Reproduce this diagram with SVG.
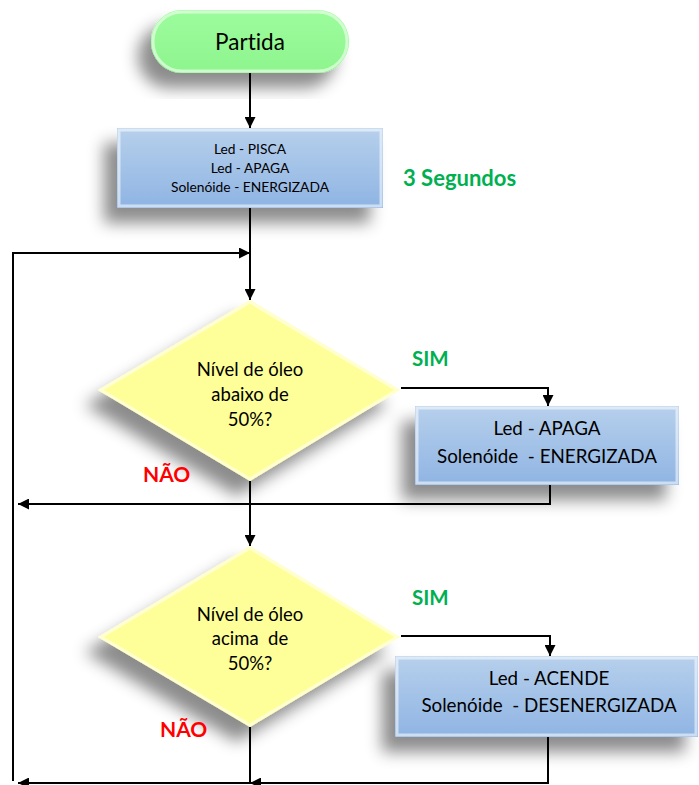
<svg xmlns="http://www.w3.org/2000/svg" width="699" height="785" viewBox="0 0 699 785">
<defs>
<linearGradient id="gBlue" x1="0" y1="0" x2="0" y2="1"><stop offset="0" stop-color="#B7D0EC"/><stop offset="1" stop-color="#8FB4E3"/></linearGradient>
<linearGradient id="gGreen" x1="0" y1="0" x2="0" y2="1"><stop offset="0" stop-color="#9CFC9C"/><stop offset="1" stop-color="#8EF58E"/></linearGradient>
<filter id="sh" x="-30%" y="-30%" width="160%" height="170%"><feDropShadow dx="-13" dy="15" stdDeviation="8" flood-color="#000" flood-opacity="0.45"/></filter>
<marker id="ah" viewBox="0 0 10 10" refX="10" refY="5" markerWidth="11" markerHeight="11" markerUnits="userSpaceOnUse" orient="auto"><path d="M0,0 L10,5 L0,10 z" fill="#000"/></marker>
<style>
text{font-variant-ligatures:none}
.box{fill:url(#gBlue);filter:url(#sh)}
.dia{fill:#FFFF99;filter:url(#sh)}
.edge{fill:none;stroke:#fff;stroke-opacity:0.55;stroke-width:3}
.t{font-family:Lato,"Open Sans","Liberation Sans",sans-serif;fill:#000;text-anchor:middle}
.c{fill:none;stroke:#000;stroke-width:2;marker-end:url(#ah)}
.sim{font-family:Lato,"Liberation Sans",sans-serif;font-weight:bold;fill:#00B050;font-size:20.5px}
.nao{font-family:Lato,"Liberation Sans",sans-serif;font-weight:bold;fill:#FF0000;font-size:21px}
</style>
</defs>
<g id="partida">
<rect x="151" y="10" width="198" height="63" rx="31" ry="31" fill="url(#gGreen)" filter="url(#sh)"/>
<rect x="153" y="12" width="194" height="59" rx="29" ry="29" class="edge"/>
<text x="250" y="50" class="t" font-size="22.5">Partida</text>
</g>
<g id="box1">
<rect x="117" y="128" width="266" height="80" class="box"/>
<rect x="119" y="130" width="262" height="76" class="edge"/>
<text x="250" y="154" class="t" font-size="13.8">Led - PISCA</text>
<text x="250" y="173" class="t" font-size="13.8">Led - APAGA</text>
<text x="250" y="192" class="t" font-size="13.8">Solenóide - ENERGIZADA</text>
</g>
<text id="tempo" x="403" y="186" font-family="Lato,'Liberation Sans',sans-serif" font-weight="bold" font-size="22" fill="#00B050">3 Segundos</text>
<g id="dec1">
<polygon points="250,300 400,390 250,481 98,390" class="dia"/>
<polygon points="250,302 397,390 250,479 101,390" class="edge" stroke-opacity="0.4"/>
<text x="250" y="376" class="t" font-size="18.5">Nível de óleo</text>
<text x="250" y="401" class="t" font-size="18.5">abaixo de</text>
<text x="250" y="426" class="t" font-size="18.5">50%?</text>
</g>
<g id="box2">
<rect x="415" y="406" width="264" height="79" class="box"/>
<rect x="417" y="408" width="260" height="75" class="edge"/>
<text x="547" y="435" class="t" font-size="18.8">Led - APAGA</text>
<text x="547" y="463" class="t" font-size="18.8" xml:space="preserve">Solenóide  - ENERGIZADA</text>
</g>
<g id="dec2">
<polygon points="250,546 400,637 250,727 98,637" class="dia"/>
<polygon points="250,548 397,637 250,725 101,637" class="edge" stroke-opacity="0.4"/>
<text x="250" y="621" class="t" font-size="18.5">Nível de óleo</text>
<text x="250" y="645" class="t" font-size="18.5" xml:space="preserve">acima  de</text>
<text x="250" y="670" class="t" font-size="18.5">50%?</text>
</g>
<g id="box3">
<rect x="395" y="656" width="303" height="81" class="box"/>
<rect x="397" y="658" width="299" height="77" class="edge"/>
<text x="549" y="685" class="t" font-size="18.8">Led - ACENDE</text>
<text x="549" y="712" class="t" font-size="18.8" xml:space="preserve">Solenóide  - DESENERGIZADA</text>
</g>
<g id="labels">
<text x="412" y="366" class="sim">SIM</text>
<text x="412" y="605" class="sim">SIM</text>
<text x="143" y="482" class="nao">NÃO</text>
<text x="160" y="737" class="nao">NÃO</text>
</g>
<g id="connectors">
<path d="M250,73 V128" class="c"/>
<path d="M250,208 V300" class="c"/>
<path d="M13,781 V253 H250" class="c"/>
<path d="M401,388 H548 V406" class="c"/>
<path d="M550,485 V504 H18" class="c"/>
<path d="M250,481 V546" class="c"/>
<path d="M401,636 H550 V656" class="c"/>
<path d="M250,727 V783 H18" class="c"/>
<path d="M548,737 V783 H250" class="c"/>
</g>
</svg>
